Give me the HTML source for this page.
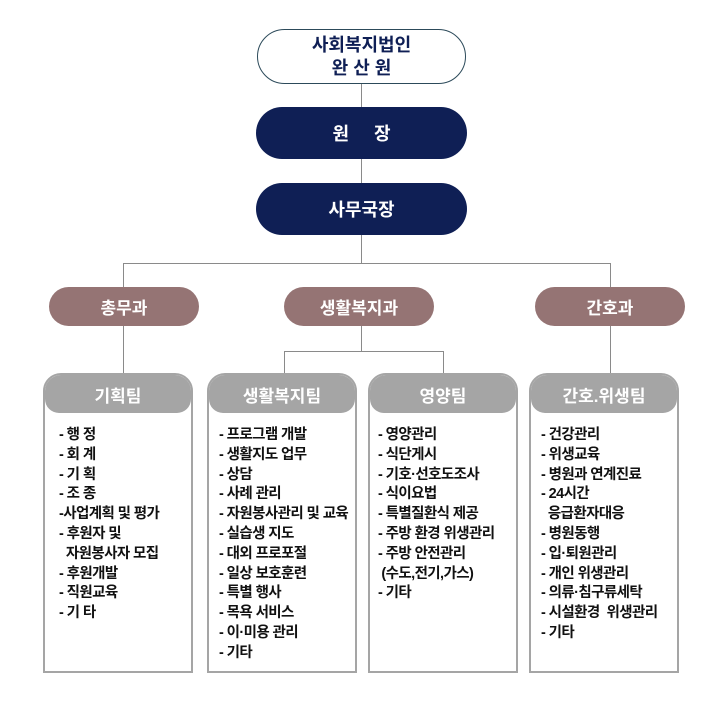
<!DOCTYPE html>
<html><head><meta charset="utf-8"><style>
body{margin:0;width:722px;height:701px;background:#fff;position:relative;overflow:hidden;font-family:"Liberation Sans","Noto Sans CJK KR",sans-serif;}
.a{position:absolute;box-sizing:border-box;}
.pill{display:flex;align-items:center;justify-content:center;color:#fff;font-weight:bold;}
.ln{position:absolute;background:#8a8a8a;}
.box{position:absolute;box-sizing:border-box;border:2px solid #a5a5a5;border-radius:18px 18px 0 0;background:#fff;}
.hd{height:38px;background:#a5a5a5;border-radius:16px 16px 14px 14px;color:#fff;font-size:17px;font-weight:bold;display:flex;align-items:center;justify-content:center;}
.items{margin-top:13px;font-size:14.5px;font-weight:bold;line-height:19.8px;color:#111;white-space:pre;letter-spacing:-0.6px;}
</style></head><body>
<div class="ln" style="left:361px;top:84px;width:1px;height:180px"></div>
<div class="ln" style="left:123px;top:263px;width:488px;height:1px"></div>
<div class="ln" style="left:123px;top:263px;width:1px;height:111px"></div>
<div class="ln" style="left:610px;top:263px;width:1px;height:111px"></div>
<div class="ln" style="left:361px;top:326px;width:1px;height:26px"></div>
<div class="ln" style="left:284px;top:351px;width:160px;height:1px"></div>
<div class="ln" style="left:284px;top:351px;width:1px;height:23px"></div>
<div class="ln" style="left:443px;top:351px;width:1px;height:23px"></div>

<div class="a pill" style="left:257px;top:29px;width:209px;height:55px;border:1.5px solid #2c4a5a;border-radius:28px;background:#fff;color:#0f1f55;font-size:18px;line-height:23px;flex-direction:column">사회복지법인<span>완 산 원</span></div>
<div class="a pill" style="left:256px;top:107px;width:211px;height:52px;border-radius:26px;background:#0f1f55;font-size:18px">원 &nbsp; &nbsp; 장</div>
<div class="a pill" style="left:256px;top:183px;width:211px;height:52px;border-radius:26px;background:#0f1f55;font-size:18px">사무국장</div>

<div class="a pill" style="left:49px;top:287px;width:150px;height:39px;border-radius:20px;background:#957474;font-size:17px">총무과</div>
<div class="a pill" style="left:284px;top:287px;width:150px;height:39px;border-radius:20px;background:#957474;font-size:17px">생활복지과</div>
<div class="a pill" style="left:535px;top:287px;width:150px;height:39px;border-radius:20px;background:#957474;font-size:17px">간호과</div>

<div class="box" style="left:43px;top:373px;width:150px;height:300px"><div class="hd">기획팀</div><div class="items" style="padding-left:14px">- 행 정
- 회 계
- 기 획
- 조 종
-사업계획 및 평가
- 후원자 및
  자원봉사자 모집
- 후원개발
- 직원교육
- 기 타</div></div>
<div class="box" style="left:207px;top:373px;width:150px;height:300px"><div class="hd">생활복지팀</div><div class="items" style="padding-left:10px">- 프로그램 개발
- 생활지도 업무
- 상담
- 사례 관리
- 자원봉사관리 및 교육
- 실습생 지도
- 대외 프로포절
- 일상 보호훈련
- 특별 행사
- 목욕 서비스
- 이·미용 관리
- 기타</div></div>
<div class="box" style="left:368px;top:373px;width:150px;height:300px"><div class="hd">영양팀</div><div class="items" style="padding-left:8px">- 영양관리
- 식단게시
- 기호·선호도조사
- 식이요법
- 특별질환식 제공
- 주방 환경 위생관리
- 주방 안전관리
 (수도,전기,가스)
- 기타</div></div>
<div class="box" style="left:529px;top:373px;width:150px;height:300px"><div class="hd">간호.위생팀</div><div class="items" style="padding-left:10px">- 건강관리
- 위생교육
- 병원과 연계진료
- 24시간
  응급환자대응
- 병원동행
- 입·퇴원관리
- 개인 위생관리
- 의류·침구류세탁
- 시설환경  위생관리
- 기타</div></div>
</body></html>
